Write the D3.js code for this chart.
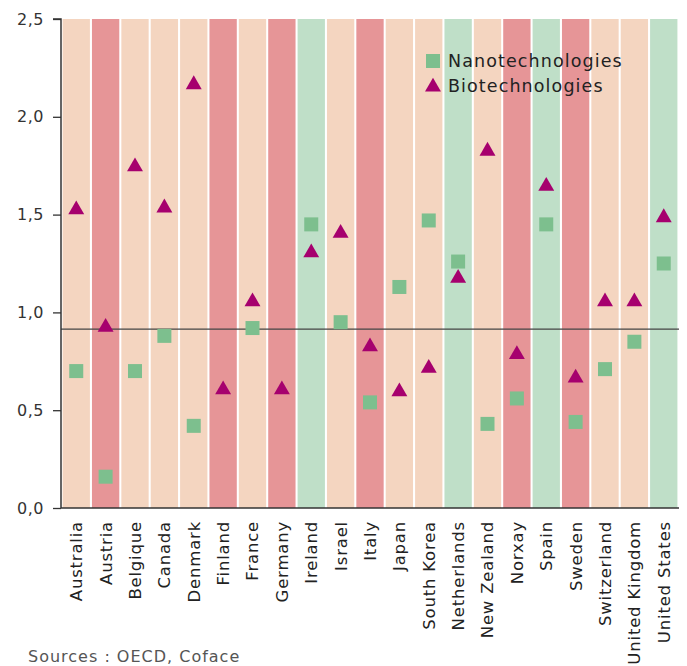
<!DOCTYPE html>
<html><head><meta charset="utf-8">
<script src="https://cdn.jsdelivr.net/npm/d3@7"></script>
<style>body{margin:0;background:#fff}svg{display:block}text{font-family:"DejaVu Sans",sans-serif}</style>
</head><body>
<svg id="c" width="687" height="666"></svg>
<script>
const countries = ["Australia","Austria","Belgique","Canada","Denmark","Finland","France","Germany","Ireland","Israel","Italy","Japan","South Korea","Netherlands","New Zealand","Norxay","Spain","Sweden","Switzerland","United Kingdom","United States"];
const groups = ["mid","low","mid","mid","mid","low","mid","low","high","mid","low","mid","mid","high","mid","low","high","low","mid","mid","high"];
const nano = [0.70,0.16,0.70,0.88,0.42,null,0.92,null,1.45,0.95,0.54,1.13,1.47,1.26,0.43,0.56,1.45,0.44,0.71,0.85,1.25];
const bio  = [1.53,0.93,1.75,1.54,2.17,0.61,1.06,0.61,1.31,1.41,0.83,0.60,0.72,1.18,1.83,0.79,1.65,0.67,1.06,1.06,1.49];
const yTicks = [0,0.5,1.0,1.5,2.0,2.5];
const refValue = 0.915;
const legendLabels = ["Nanotechnologies","Biotechnologies"];
const source = "Sources : OECD, Coface";

const colors = {mid:"#F4D5C0", low:"#E69597", high:"#BFDFC8"};
const nanoColor = "#7DBF8E", bioColor = "#A6006E";
const FONT = "'DejaVu Sans',sans-serif";

const svg = d3.select("#c");
const m = {l:61, r:9, t:19, b:158};
const W = 687, H = 666;
const x = d3.scaleBand().domain(countries).range([m.l+1, W-m.r]).paddingInner(0.07).paddingOuter(0.02);
const y = d3.scaleLinear().domain([0,2.5]).range([H-m.b, m.t]);

// background columns
svg.append("g").selectAll("rect").data(countries).join("rect")
  .attr("x", d=>x(d)).attr("width", x.bandwidth())
  .attr("y", y(2.5)).attr("height", y(0)-y(2.5))
  .attr("fill", (d,i)=>colors[groups[i]]);

// reference line
svg.append("line").attr("x1", m.l).attr("x2", W-m.r+1).attr("y1", y(refValue)).attr("y2", y(refValue))
  .attr("stroke","#444").attr("stroke-width",1.3);

// y axis
const yAxis = d3.axisLeft(y).tickValues(yTicks).tickSize(8).tickPadding(9)
  .tickFormat(d=>d3.format(".1f")(d).replace(".",","));
const gy = svg.append("g").attr("transform",`translate(${m.l},0)`).call(yAxis);
gy.select(".domain").attr("stroke","#333").attr("stroke-width",1.5).attr("d",`M-8,${y(2.5)}H0V${y(0)}`);
gy.selectAll(".tick line").attr("stroke","#333").attr("stroke-width",1.3);
gy.selectAll(".tick text").attr("fill","#333").style("font-size","16px").style("font-family",FONT).style("letter-spacing","0.5px");

// x axis
const xAxis = d3.axisBottom(x).tickSize(0).tickPadding(0);
const gx = svg.append("g").attr("transform",`translate(0,${y(0)})`).call(xAxis);
gx.select(".domain").attr("stroke","#333").attr("stroke-width",1.5).attr("d",`M${m.l},0H${W-m.r+1}`);
gx.selectAll(".tick text").attr("fill","#222").style("font-size","16.5px").style("font-family",FONT)
  .style("letter-spacing","0.8px")
  .attr("transform","rotate(-90)").attr("text-anchor","end").attr("x",-13).attr("y",0).attr("dy","0.36em");

// markers
const cx = d => x(d)+x.bandwidth()/2;
const sq = 14;
svg.append("g").selectAll("rect").data(countries.map((c,i)=>({c,v:nano[i]})).filter(d=>d.v!=null)).join("rect")
  .attr("x", d=>cx(d.c)-sq/2).attr("y", d=>y(d.v)-sq/2).attr("width",sq).attr("height",sq).attr("fill",nanoColor);
const tri = d3.symbol().type(d3.symbolTriangle).size(110);
svg.append("g").selectAll("path").data(countries.map((c,i)=>({c,v:bio[i]})).filter(d=>d.v!=null)).join("path")
  .attr("d", tri).attr("transform", d=>`translate(${cx(d.c)},${y(d.v)+1})`).attr("fill",bioColor);

// legend
const lg = svg.append("g").attr("transform","translate(433,61)");
lg.append("rect").attr("x",-7).attr("y",-7).attr("width",14).attr("height",14).attr("fill",nanoColor);
lg.append("path").attr("d",tri).attr("transform","translate(0,26)").attr("fill",bioColor);
lg.selectAll("text").data(legendLabels).join("text")
  .attr("x",15).attr("y",(d,i)=>i*25).attr("dy","0.36em")
  .attr("fill","#222").style("font-size","17.5px").style("letter-spacing","1.1px").text(d=>d);

// source
svg.append("text").attr("x",28).attr("y",662).attr("fill","#555").style("font-size","16px").style("letter-spacing","1px").text(source);
</script>
</body></html>
